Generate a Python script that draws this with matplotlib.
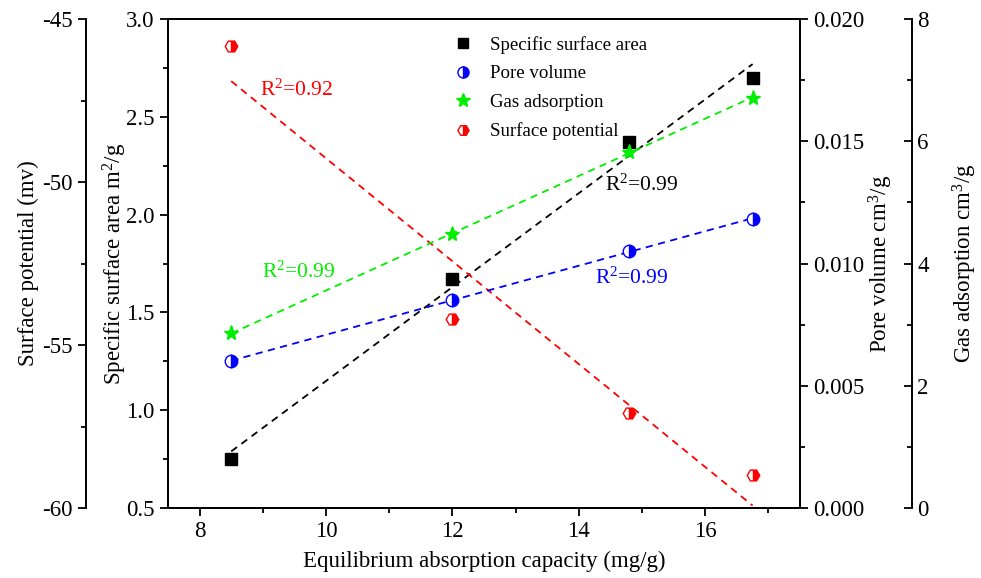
import numpy as np
import matplotlib
matplotlib.use("Agg")
import matplotlib.pyplot as plt
from matplotlib.ticker import MultipleLocator, FormatStrFormatter

plt.rcParams['font.family'] = ['Liberation Serif', 'DejaVu Serif']
plt.rcParams['mathtext.default'] = 'regular'
plt.rcParams['axes.unicode_minus'] = False

# data
capacity = [8.5, 12.0, 14.8, 16.75]
surface_area = [0.75, 1.67, 2.37, 2.70]
pore_volume = [0.00601, 0.00851, 0.01051, 0.01182]
gas_adsorption = [2.86, 4.48, 5.83, 6.71]
surface_potential = [-45.83, -54.2, -57.09, -58.99]

fig = plt.figure(figsize=(9.81, 5.78), dpi=100)
ax = fig.add_axes([0.1713, 0.1211, 0.6442, 0.846])
ax_sp = ax.twinx()
ax_pv = ax.twinx()
ax_ga = ax.twinx()

def fit_line(axis, x, y, color):
    k, b = np.polyfit(x, y, 1)
    xs = np.array([x[0], x[-1]])
    axis.plot(xs, k * xs + b, color=color, ls=(0, (4, 3)), lw=1.3)

fs = 16.5

# specific surface area (main axis)
fit_line(ax, capacity, surface_area, 'black')
ax.plot(capacity, surface_area, 's', color='black', ms=8, ls='none')
ax.set_xlim(7.5, 17.5)
ax.set_ylim(0.5, 3.0)
ax.xaxis.set_major_locator(MultipleLocator(2))
ax.xaxis.set_minor_locator(MultipleLocator(1))
ax.yaxis.set_major_locator(MultipleLocator(0.5))
ax.yaxis.set_minor_locator(MultipleLocator(0.25))
ax.yaxis.set_major_formatter(FormatStrFormatter('%.1f'))
ax.set_xlabel('Equilibrium absorption capacity (mg/g)', fontsize=fs)
ax.set_ylabel('Specific surface area m$^2$/g', fontsize=fs)
ax.xaxis.set_label_coords(0.5, -0.088)
ax.yaxis.set_label_coords(-0.062, 0.5)

# surface potential (outer left)
fit_line(ax_sp, capacity, surface_potential, 'red')
ax_sp.plot(capacity, surface_potential, 'H', color='red', mfc='red', mec='red',
           fillstyle='right', markerfacecoloralt='white', ms=9, ls='none')
ax_sp.set_ylim(-60, -45)
ax_sp.yaxis.set_major_locator(MultipleLocator(5))
ax_sp.yaxis.set_minor_locator(MultipleLocator(2.5))
ax_sp.spines['left'].set_position(('axes', -0.1297))
ax_sp.spines['left'].set_visible(True)
ax_sp.spines['right'].set_visible(False)
ax_sp.spines['top'].set_visible(False)
ax_sp.spines['bottom'].set_visible(False)
ax_sp.yaxis.set_ticks_position('left')
ax_sp.yaxis.set_label_position('left')
ax_sp.set_ylabel('Surface potential (mv)', fontsize=fs)
ax_sp.yaxis.set_label_coords(-0.204, 0.5)

# pore volume (inner right)
fit_line(ax_pv, capacity, pore_volume, 'blue')
ax_pv.plot(capacity, pore_volume, 'o', color='blue', mec='blue',
           fillstyle='right', markerfacecoloralt='white', ms=9, ls='none')
ax_pv.set_ylim(0, 0.020)
ax_pv.yaxis.set_major_locator(MultipleLocator(0.005))
ax_pv.yaxis.set_minor_locator(MultipleLocator(0.0025))
ax_pv.yaxis.set_major_formatter(FormatStrFormatter('%.3f'))
ax_pv.set_ylabel('Pore volume cm$^3$/g', fontsize=fs)
ax_pv.yaxis.set_label_coords(1.106, 0.5)

# gas adsorption (outer right)
fit_line(ax_ga, capacity, gas_adsorption, '#00ee00')
ax_ga.plot(capacity, gas_adsorption, '*', color='#00ee00', ms=11, ls='none')
ax_ga.set_ylim(0, 8)
ax_ga.yaxis.set_major_locator(MultipleLocator(2))
ax_ga.yaxis.set_minor_locator(MultipleLocator(1))
ax_ga.spines['right'].set_position(('axes', 1.177))
for s in ['left', 'top', 'bottom']:
    ax_ga.spines[s].set_visible(False)
ax_ga.set_ylabel('Gas adsorption cm$^3$/g', fontsize=fs)
ax_ga.yaxis.set_label_coords(1.239, 0.5)

for a in [ax, ax_sp, ax_pv, ax_ga]:
    for s in a.spines.values():
        s.set_linewidth(1.4)
    a.tick_params(which='major', direction='out', length=6, width=1.3, labelsize=fs)
    a.tick_params(which='minor', direction='out', length=3.5, width=1.3)
ax_ga.tick_params(axis='y', which='both', direction='in', pad=4)
ax.tick_params(axis='x', which='both', top=False)
ax.tick_params(axis='y', which='both', right=False)

# legend
handles = [
    plt.Line2D([], [], marker='s', color='black', ls='none', ms=7),
    plt.Line2D([], [], marker='o', color='blue', ls='none', ms=8,
               fillstyle='right', markerfacecoloralt='white'),
    plt.Line2D([], [], marker='*', color='#00ee00', ls='none', ms=10),
    plt.Line2D([], [], marker='H', color='red', ls='none', ms=8,
               fillstyle='right', markerfacecoloralt='white'),
]
labels = ['Specific surface area', 'Pore volume', 'Gas adsorption', 'Surface potential']
ax_ga.legend(handles, labels, loc='upper left', bbox_to_anchor=(0.425, 1.0),
             frameon=False, fontsize=13.6, handlelength=1.0, handletextpad=0.93,
             labelspacing=0.6)

# R^2 labels
ax.text(0.146, 0.855, 'R$^2$=0.92', color='red', fontsize=15.5, transform=ax.transAxes, va='center')
ax.text(0.691, 0.66, 'R$^2$=0.99', color='black', fontsize=15.5, transform=ax.transAxes, va='center')
ax.text(0.149, 0.483, 'R$^2$=0.99', color='#00ee00', fontsize=15.5, transform=ax.transAxes, va='center')
ax.text(0.676, 0.470, 'R$^2$=0.99', color='blue', fontsize=15.5, transform=ax.transAxes, va='center')

fig.savefig('out.png', dpi=100)
